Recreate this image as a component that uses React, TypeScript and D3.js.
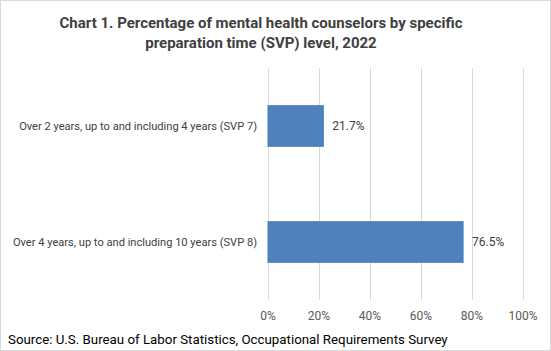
import { useEffect, useRef } from 'react';
import * as d3 from 'd3';

const categories = [
  'Over 2 years, up to and including 4 years (SVP 7)',
  'Over 4 years, up to and including 10 years (SVP 8)',
];
const values = [21.7, 76.5];
const xTicks = [0, 20, 40, 60, 80, 100];
const titleLines = [
  'Chart 1. Percentage of mental health counselors by specific',
  'preparation time (SVP) level, 2022',
];
const source = 'Source: U.S. Bureau of Labor Statistics, Occupational Requirements Survey';

const W = 551;
const H = 351;
const FONT = 'Roboto, "Liberation Sans", sans-serif';

const App = () => {
  const svgRef = useRef<SVGSVGElement>(null);

  useEffect(() => {
    const svg = d3.select(svgRef.current);
    svg.selectAll('*').remove();

    const margin = { top: 68, right: 28, bottom: 51, left: 268 };

    // outer frame
    svg.append('rect')
      .attr('x', 0.5).attr('y', 0.5)
      .attr('width', W - 1).attr('height', H - 1)
      .attr('fill', '#fff')
      .attr('stroke', '#d9d9d9');

    const x = d3.scaleLinear()
      .domain([0, 100])
      .range([margin.left, W - margin.right]);

    const y = d3.scaleBand()
      .domain(categories)
      .range([margin.top, H - margin.bottom])
      .paddingInner(0.65)
      .paddingOuter(0.325);

    // gridlines
    svg.append('g')
      .selectAll('line')
      .data(xTicks)
      .join('line')
      .attr('x1', d => Math.round(x(d)) + 0.5)
      .attr('x2', d => Math.round(x(d)) + 0.5)
      .attr('y1', margin.top)
      .attr('y2', H - margin.bottom)
      .attr('stroke', '#d9d9d9');

    // tick labels
    svg.append('g')
      .selectAll('text')
      .data(xTicks)
      .join('text')
      .attr('x', d => x(d))
      .attr('y', 316)
      .attr('dy', '0.35em')
      .attr('text-anchor', 'middle')
      .attr('font-family', FONT)
      .attr('font-size', 12)
      .attr('fill', '#595959')
      .text(d => `${d}%`);

    // bars
    svg.append('g')
      .selectAll('rect')
      .data(values)
      .join('rect')
      .attr('x', x(0))
      .attr('y', (d, i) => y(categories[i]))
      .attr('width', d => x(d) - x(0))
      .attr('height', y.bandwidth())
      .attr('fill', '#4f81bd')
      .attr('stroke', '#4a7ebb')
      .attr('stroke-width', 1);

    // value labels
    svg.append('g')
      .selectAll('text')
      .data(values)
      .join('text')
      .attr('x', d => x(d) + 9)
      .attr('y', (d, i) => y(categories[i]) + y.bandwidth() / 2)
      .attr('dy', '0.35em')
      .attr('font-family', FONT)
      .attr('font-size', 12)
      .attr('fill', '#404040')
      .text(d => `${d.toFixed(1)}%`);

    // category labels
    svg.append('g')
      .selectAll('text')
      .data(categories)
      .join('text')
      .attr('x', 257)
      .attr('y', d => y(d) + y.bandwidth() / 2)
      .attr('dy', '0.35em')
      .attr('text-anchor', 'end')
      .attr('font-family', FONT)
      .attr('font-size', 11.1)
      .attr('fill', '#404040')
      .text(d => d);

    // title
    svg.append('g')
      .selectAll('text')
      .data(titleLines)
      .join('text')
      .attr('x', 261)
      .attr('y', (d, i) => 23 + i * 20)
      .attr('dy', '0.35em')
      .attr('text-anchor', 'middle')
      .attr('font-family', FONT)
      .attr('font-size', 15)
      .attr('font-weight', 'bold')
      .attr('fill', '#404040')
      .text(d => d);

    // source
    svg.append('text')
      .attr('x', 8)
      .attr('y', 339)
      .attr('dy', '0.35em')
      .attr('font-family', FONT)
      .attr('font-size', 13.3)
      .attr('fill', '#000')
      .text(source);
  }, []);

  return (
    <svg
      ref={svgRef}
      width={W}
      height={H}
      style={{ position: 'absolute', left: 0, top: 0, display: 'block' }}
    />
  );
};

export default App;
